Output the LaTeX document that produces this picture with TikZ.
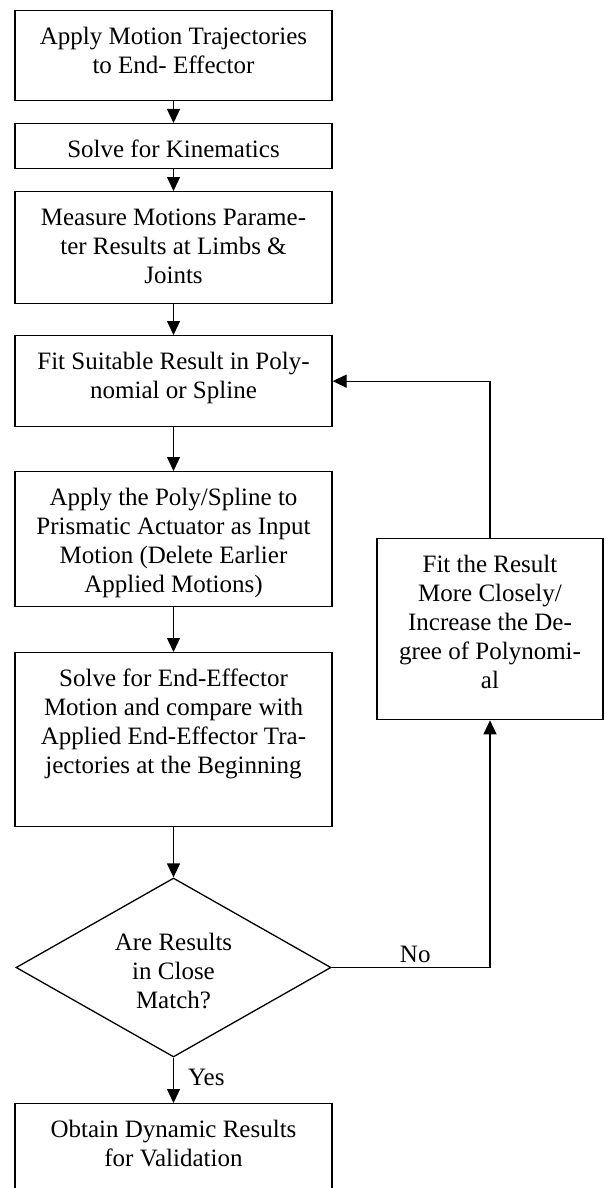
\documentclass[tikz,border=0pt]{standalone}
\usepackage{fontspec}
\setmainfont{Liberation Serif}
\usetikzlibrary{arrows.meta,shapes.geometric}
\tikzset{
  box/.style={draw=black, line width=1.3pt, rectangle, inner sep=0pt, anchor=north, minimum width=317pt},
  rbox/.style={draw=black, line width=1.3pt, rectangle, inner sep=0pt, anchor=north, minimum width=226pt},
  dia/.style={draw=black, line width=1.3pt, diamond, inner sep=0pt, minimum width=315pt, minimum height=179pt, aspect=1.76},
  txt/.style={font=\fontsize{25}{29}\selectfont, align=center, inner sep=0pt, anchor=north, yshift=-13.7pt},
  lbl/.style={font=\fontsize{25}{29}\selectfont, inner sep=0pt},
  conn/.style={line width=1.3pt, -{Triangle[length=14pt,width=13pt]}}
}
\begin{document}
\begin{tikzpicture}[x=1pt,y=-1pt]
\useasboundingbox (0,0) rectangle (605,1188);
\clip (0,0) rectangle (605,1188);
% boxes
\node[box, minimum height=90pt]  (b1) at (173.5,10) {};
\node[box, minimum height=45pt]  (b2) at (173.5,123) {};
\node[box, minimum height=112pt] (b3) at (173.5,191) {};
\node[box, minimum height=91pt]  (b4) at (173.5,335) {};
\node[box, minimum height=135pt] (b5) at (173.5,471) {};
\node[box, minimum height=174pt] (b6) at (173.5,652) {};
\node[dia] (d) at (173.5,967.5) {};
\node[box, minimum height=115pt] (b7) at (173.5,1103) {};
\node[rbox, minimum height=181pt] (r) at (490,538) {};
% texts
\node[txt] (t1) at (b1.north) {\strut Apply Motion Trajectories\\to End- Effector};
\node[txt] (t2) at (b2.north) {\strut Solve for Kinematics};
\node[txt] (t3) at (b3.north) {\strut Measure Motions Parame-\\ter Results at Limbs \&\\Joints};
\node[txt] (t4) at (b4.north) {\strut Fit Suitable Result in Poly-\\nomial or Spline};
\node[txt] (t5) at (b5.north) {\strut Apply the Poly/Spline to\\Prismatic Actuator as Input\\Motion (Delete Earlier\\Applied Motions)};
\node[txt] (t6) at (b6.north) {\strut Solve for End-Effector\\Motion and compare with\\Applied End-Effector Tra-\\jectories at the Beginning};
\node[txt, yshift=13.7pt] (td) at (173.5,929.7) {\strut Are Results\\in Close\\Match?};
\node[txt] (t7) at (b7.north) {\strut Obtain Dynamic Results\\for Validation};
\node[txt] (tr) at (r.north) {\strut Fit the Result\\More Closely/\\Increase the De-\\gree of Polynomi-\\al};
% connectors
\draw[conn] (b1.south) -- (b2.north);
\draw[conn] (b2.south) -- (b3.north);
\draw[conn] (b3.south) -- (b4.north);
\draw[conn] (b4.south) -- (b5.north);
\draw[conn] (b5.south) -- (b6.north);
\draw[conn] (b6.south) -- (d.north);
\draw[conn] (d.south) -- node[lbl, pos=0.61, anchor=base west, xshift=14pt] (yes) {Yes} (b7.north);
\draw[conn] (d.east) -| node[lbl, pos=0.264, anchor=base, yshift=5pt] (no) {No} (r.south);
\draw[conn] (r.north) |- (b4.east);
\end{tikzpicture}
\end{document}
